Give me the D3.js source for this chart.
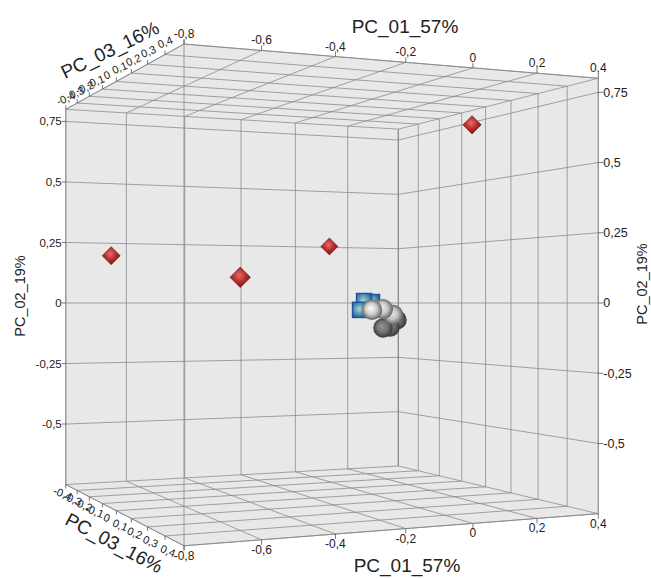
<!DOCTYPE html>
<html>
<head>
<meta charset="utf-8">
<script src="https://cdn.jsdelivr.net/npm/d3@7"></script>
<style>
  body { margin: 0; background: #ffffff; }
  svg { display: block; }
  text { font-family: Arial, "Liberation Sans", sans-serif; fill: #222; }
</style>
</head>
<body>
<svg id="chart" width="651" height="579"></svg>
<script>
// PCA scores (PC_01, PC_02, PC_03) for the three sample groups
const redX = [-0.70, -0.52, 0.02, 0.28];
const redY = [0.19, 0.09, 0.24, 0.70];
const redZ = [-0.28, 0.16, -0.24, 0.08];

const greyX = [-0.001, 0.036, 0.071, 0.162, 0.137, 0.112];
const greyY = [-0.027, -0.024, -0.047, -0.070, -0.099, -0.102];
const greyZ = [0, 0, 0, -0.1, -0.1, -0.1];

const blueX = [0.031, 0.073, 0.045];
const blueY = [-0.028, 0.004, 0.008];
const blueZ = [-0.1, -0.1, -0.1];

// axes
const xDomain = [-0.8, 0.4];
const yDomain = [-0.75, 0.8];
const zDomain = [-0.4, 0.4];
const xTicks = [-0.8, -0.6, -0.4, -0.2, 0, 0.2, 0.4];
const yTicks = [-0.5, -0.25, 0, 0.25, 0.5, 0.75];
const zTicks = [-0.4, -0.3, -0.2, -0.1, 0, 0.1, 0.2, 0.3, 0.4];
const xTitle = "PC_01_57%";
const yTitle = "PC_02_19%";
const zTitle = "PC_03_16%";

// ---- perspective camera -------------------------------------------------
const side = 1.545;                 // cube edge length (in PC_02 units)
const focal = 1352, cx = 325.5, cy = 303;
const yaw = 24.3 * Math.PI / 180, cosA = Math.cos(yaw), sinA = Math.sin(yaw);
const eye = { X: -0.4371, d: 4.1767 }; // camera-space position of the near vertical edge
const xs = d3.scaleLinear().domain(xDomain).range([0, side]);
const zs = d3.scaleLinear().domain([zDomain[1], zDomain[0]]).range([0, side]);
const ys = d3.scaleLinear().domain(yDomain).range(yDomain);

function proj(x, y, z) {
  const a = xs(x), b = zs(z);
  const X = eye.X + a * cosA - b * sinA;
  const d = eye.d + a * sinA + b * cosA;
  return { x: cx + focal * X / d, y: cy - focal * ys(y) / d, d: d, s: focal / d };
}

const loc = d3.formatLocale({ decimal: ",", thousands: ".", grouping: [3], currency: ["", ""], minus: "-" });
const fmt = loc.format("~f");

const svg = d3.select("#chart");
const defs = svg.append("defs");

const [x0, x1] = xDomain, [y0, y1] = yDomain, [z0, z1] = zDomain;

// ---- walls --------------------------------------------------------------
const walls = [
  [[x0, y0, z0], [x1, y0, z0], [x1, y1, z0], [x0, y1, z0]],   // back
  [[x1, y0, z0], [x1, y0, z1], [x1, y1, z1], [x1, y1, z0]],   // right
  [[x0, y1, z0], [x1, y1, z0], [x1, y1, z1], [x0, y1, z1]],   // ceiling
  [[x0, y0, z0], [x1, y0, z0], [x1, y0, z1], [x0, y0, z1]]    // floor
];
svg.append("g").selectAll("polygon").data(walls).join("polygon")
  .attr("points", w => w.map(p => { const q = proj(...p); return q.x + "," + q.y; }).join(" "))
  .attr("fill", "#e8e8e8")
  .attr("stroke", "none");

// ---- grid lines ---------------------------------------------------------
const seg = [];
xTicks.forEach(x => { seg.push([[x, y0, z0], [x, y1, z0]]); seg.push([[x, y1, z0], [x, y1, z1]]); seg.push([[x, y0, z0], [x, y0, z1]]); });
yTicks.forEach(y => { seg.push([[x0, y, z0], [x1, y, z0]]); seg.push([[x1, y, z0], [x1, y, z1]]); });
zTicks.forEach(z => { seg.push([[x1, y0, z], [x1, y1, z]]); seg.push([[x0, y1, z], [x1, y1, z]]); seg.push([[x0, y0, z], [x1, y0, z]]); });

svg.append("g").selectAll("line").data(seg).join("line")
  .each(function (s) {
    const p = proj(...s[0]), q = proj(...s[1]);
    d3.select(this).attr("x1", p.x).attr("y1", p.y).attr("x2", q.x).attr("y2", q.y);
  })
  .attr("stroke", "#868686").attr("stroke-width", 0.75);

// box edges
const edges = [
  [[x0, y0, z0], [x0, y1, z0]], [[x0, y0, z1], [x0, y1, z1]], [[x1, y0, z1], [x1, y1, z1]],
  [[x0, y1, z0], [x0, y1, z1]], [[x0, y1, z1], [x1, y1, z1]],
  [[x0, y0, z0], [x0, y0, z1]], [[x0, y0, z1], [x1, y0, z1]],
  [[x1, y0, z0], [x1, y1, z0]]
];
svg.append("g").selectAll("line").data(edges).join("line")
  .each(function (s) {
    const p = proj(...s[0]), q = proj(...s[1]);
    d3.select(this).attr("x1", p.x).attr("y1", p.y).attr("x2", q.x).attr("y2", q.y);
  })
  .attr("stroke", "#868686").attr("stroke-width", 0.8);

// ---- ticks and tick labels ---------------------------------------------
const ticks = svg.append("g").attr("stroke", "#555").attr("stroke-width", 0.8);
const labels = svg.append("g");

// PC_01 along the near top and bottom edges
xTicks.forEach(x => {
  const t = proj(x, y1, z1), b = proj(x, y0, z1);
  ticks.append("line").attr("x1", t.x).attr("y1", t.y).attr("x2", t.x).attr("y2", t.y - 5);
  ticks.append("line").attr("x1", b.x).attr("y1", b.y).attr("x2", b.x).attr("y2", b.y + 5);
  labels.append("text").attr("x", t.x).attr("y", t.y - 6).attr("text-anchor", "middle")
    .attr("font-size", 12).text(fmt(x));
  labels.append("text").attr("x", b.x).attr("y", b.y + 14).attr("text-anchor", "middle")
    .attr("font-size", 12).text(fmt(x));
});

// PC_02 on the far-left and near-right vertical edges
yTicks.forEach(y => {
  const l = proj(x0, y, z0), r = proj(x1, y, z1);
  ticks.append("line").attr("x1", l.x - 4).attr("y1", l.y).attr("x2", l.x).attr("y2", l.y);
  ticks.append("line").attr("x1", r.x).attr("y1", r.y).attr("x2", r.x + 5).attr("y2", r.y);
  labels.append("text").attr("x", l.x - 4).attr("y", l.y).attr("dy", "0.35em")
    .attr("text-anchor", "end").attr("font-size", 11.5).text(fmt(y));
  labels.append("text").attr("x", r.x + 5).attr("y", r.y).attr("dy", "0.35em")
    .attr("text-anchor", "start").attr("font-size", 12.5).text(fmt(y));
});

// PC_03 along the left top and bottom edges
const zFrac = d3.scaleLinear().domain(zDomain).range([0, 1]);
const topOff = d3.interpolate([0, -11], [-19, -2]);
const botOff = d3.interpolate([-3, 9], [-16, 5]);
zTicks.forEach(z => {
  const t = proj(x0, y1, z), b = proj(x0, y0, z);
  ticks.append("line").attr("x1", t.x).attr("y1", t.y).attr("x2", t.x).attr("y2", t.y - 4);
  ticks.append("line").attr("x1", b.x).attr("y1", b.y).attr("x2", b.x).attr("y2", b.y + 4);
  const o1 = topOff(zFrac(z)), o2 = botOff(zFrac(z));
  labels.append("text")
    .attr("transform", `translate(${t.x + o1[0]},${t.y + o1[1]}) rotate(-22)`)
    .attr("text-anchor", "middle").attr("dominant-baseline", "central")
    .attr("font-size", 11).text(fmt(z));
  labels.append("text")
    .attr("transform", `translate(${b.x + o2[0]},${b.y + o2[1]}) rotate(22)`)
    .attr("text-anchor", "middle").attr("dominant-baseline", "central")
    .attr("font-size", 11).text(fmt(z));
});

// ---- axis titles --------------------------------------------------------
const titles = svg.append("g").attr("fill", "#222");
titles.append("text").attr("x", 405).attr("y", 33).attr("text-anchor", "middle")
  .attr("font-size", 19).text(xTitle);
titles.append("text").attr("x", 407).attr("y", 572).attr("text-anchor", "middle")
  .attr("font-size", 19).text(xTitle);
titles.append("text").attr("transform", "translate(25,296) rotate(-90)")
  .attr("text-anchor", "middle").attr("font-size", 14.5).text(yTitle);
titles.append("text").attr("transform", "translate(647,284) rotate(-90)")
  .attr("text-anchor", "middle").attr("font-size", 14.5).text(yTitle);
titles.append("text").attr("transform", "translate(110,50) rotate(-26)")
  .attr("text-anchor", "middle").attr("dominant-baseline", "central")
  .attr("font-size", 19).text(zTitle);
titles.append("text").attr("transform", "translate(114,543) rotate(28)")
  .attr("text-anchor", "middle").attr("dominant-baseline", "central")
  .attr("font-size", 19).text(zTitle);

// ---- gradients for the markers -----------------------------------------
const gRed = defs.append("radialGradient").attr("id", "gRed")
  .attr("cx", "45%").attr("cy", "40%").attr("r", "60%");
gRed.append("stop").attr("offset", "0%").attr("stop-color", "#e86a6a");
gRed.append("stop").attr("offset", "55%").attr("stop-color", "#b62c2c");
gRed.append("stop").attr("offset", "100%").attr("stop-color", "#7a1212");

const gBlue = defs.append("radialGradient").attr("id", "gBlue")
  .attr("cx", "45%").attr("cy", "45%").attr("r", "65%");
gBlue.append("stop").attr("offset", "0%").attr("stop-color", "#a6d6d2");
gBlue.append("stop").attr("offset", "45%").attr("stop-color", "#5d9cb4");
gBlue.append("stop").attr("offset", "100%").attr("stop-color", "#1f4f9e");

// ---- data points, drawn far to near ------------------------------------
const pts = [];
redX.forEach((x, i) => pts.push({ kind: "red", x, y: redY[i], z: redZ[i] }));
greyX.forEach((x, i) => pts.push({ kind: "grey", x, y: greyY[i], z: greyZ[i] }));
blueX.forEach((x, i) => pts.push({ kind: "blue", x, y: blueY[i], z: blueZ[i] }));
pts.forEach(p => { p.p = proj(p.x, p.y, p.z); });
pts.sort((a, b) => b.p.d - a.p.d);

// spheres further back are rendered a little darker
const light = d3.scaleLinear().domain([5.30, 5.56]).range([1, 0.4]).clamp(true);
const marks = svg.append("g");
pts.forEach((p, i) => {
  const q = p.p;
  if (p.kind === "red") {
    const h = 0.036 * q.s;
    marks.append("path")
      .attr("d", `M${q.x},${q.y - h}L${q.x + h},${q.y}L${q.x},${q.y + h}L${q.x - h},${q.y}Z`)
      .attr("fill", "url(#gRed)").attr("stroke", "#6e1010").attr("stroke-width", 0.6);
  } else if (p.kind === "grey") {
    const r = 0.04 * q.s, l = light(q.d);
    const id = "gs" + i;
    const g = defs.append("radialGradient").attr("id", id)
      .attr("cx", "50%").attr("cy", "50%").attr("fx", "42%").attr("fy", "40%").attr("r", "55%");
    g.append("stop").attr("offset", "0%").attr("stop-color", d3.interpolateRgb("#3c3c3c", "#ffffff")(l));
    g.append("stop").attr("offset", "50%").attr("stop-color", d3.interpolateRgb("#2a2a2a", "#d0d0d0")(l));
    g.append("stop").attr("offset", "100%").attr("stop-color", d3.interpolateRgb("#121212", "#505050")(l));
    marks.append("circle").attr("cx", q.x).attr("cy", q.y).attr("r", r).attr("fill", `url(#${id})`);
  } else {
    const h = 0.031 * q.s;
    marks.append("rect").attr("x", q.x - h).attr("y", q.y - h).attr("width", 2 * h).attr("height", 2 * h)
      .attr("fill", "url(#gBlue)").attr("stroke", "#234f9c").attr("stroke-width", 1.3);
  }
});
</script>
</body>
</html>
